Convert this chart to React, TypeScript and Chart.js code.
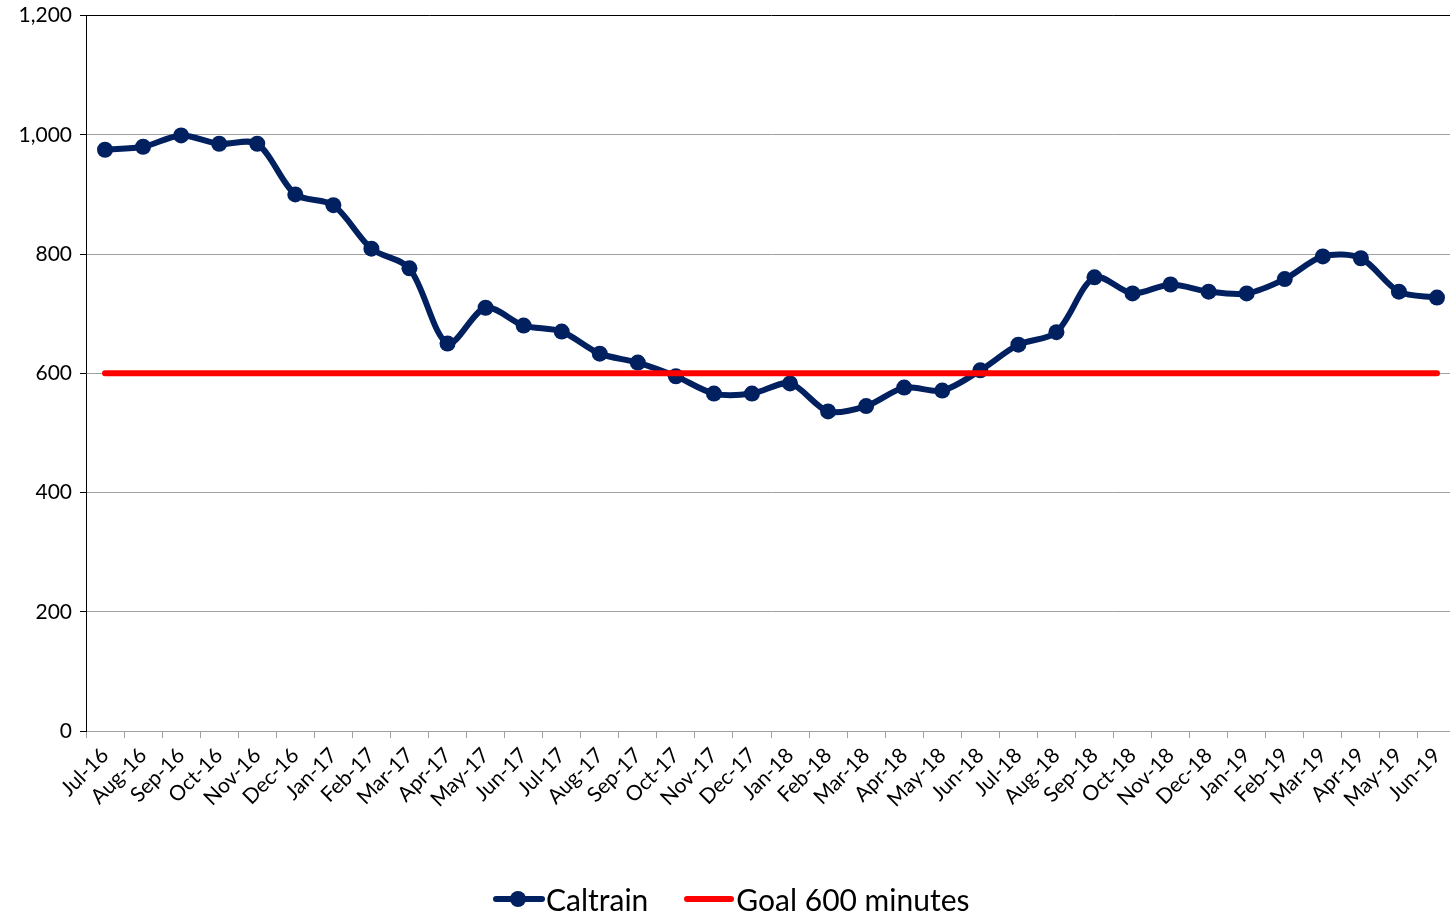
import React, { useEffect, useRef } from "react";
import { Chart, registerables } from "chart.js";

Chart.register(...registerables);

const months = [
  "Jul-16", "Aug-16", "Sep-16", "Oct-16", "Nov-16", "Dec-16",
  "Jan-17", "Feb-17", "Mar-17", "Apr-17", "May-17", "Jun-17",
  "Jul-17", "Aug-17", "Sep-17", "Oct-17", "Nov-17", "Dec-17",
  "Jan-18", "Feb-18", "Mar-18", "Apr-18", "May-18", "Jun-18",
  "Jul-18", "Aug-18", "Sep-18", "Oct-18", "Nov-18", "Dec-18",
  "Jan-19", "Feb-19", "Mar-19", "Apr-19", "May-19", "Jun-19",
];

const caltrain = [
  975, 980, 999, 985, 985, 900,
  882, 809, 776, 650, 710, 680,
  670, 633, 618, 595, 566, 566,
  583, 536, 545, 576, 571, 605,
  648, 669, 761, 734, 749, 737,
  734, 758, 796, 793, 737, 727,
];

const goal = months.map(() => 600);

const yTicks = [0, 200, 400, 600, 800, 1000, 1200];

const NAVY = "#002060";
const RED = "#FF0000";
const FONT = "Lato, 'Open Sans', sans-serif";

export default function App() {
  const ref = useRef<HTMLCanvasElement | null>(null);

  useEffect(() => {
    document.body.style.margin = "0";
    const canvas = ref.current;
    if (!canvas) return;
    const chart = new Chart(canvas, {
      type: "line",
      data: {
        labels: months,
        datasets: [
          {
            label: "Caltrain",
            data: caltrain,
            borderColor: NAVY,
            backgroundColor: NAVY,
            borderWidth: 6,
            pointRadius: 8,
            pointBackgroundColor: NAVY,
            pointBorderColor: NAVY,
            pointBorderWidth: 0,
            tension: 0.3,
            order: 2,
          },
          {
            label: "Goal 600 minutes",
            data: goal,
            borderColor: RED,
            backgroundColor: RED,
            borderWidth: 6,
            pointRadius: 0,
            borderCapStyle: "round",
            tension: 0,
            order: 1,
          },
        ],
      },
      options: {
        animation: false,
        responsive: false,
        maintainAspectRatio: false,
        layout: { padding: { left: 0, right: 4, top: 5, bottom: 0 } },
        plugins: {
          legend: { display: false },
          tooltip: { enabled: false },
        },
        scales: {
          x: {
            type: "category",
            offset: true,
            grid: {
              offset: true,
              drawOnChartArea: false,
              drawTicks: true,
              tickLength: 7,
              tickColor: "#a0a0a0",
              lineWidth: 1,
            },
            border: { color: "#a0a0a0", width: 1 },
            ticks: {
              minRotation: 45,
              maxRotation: 45,
              autoSkip: false,
              padding: 5,
              color: "#000",
              font: { family: FONT, size: 21 },
            },
            afterFit: (scale: any) => {
              scale.height = 182;
            },
          },
          y: {
            min: 0,
            max: 1200,
            afterBuildTicks: (scale: any) => {
              scale.ticks = yTicks.map((v) => ({ value: v }));
            },
            grid: {
              color: (ctx: any) => (ctx.tick && ctx.tick.value === 1200 ? "#000" : "#a0a0a0"),
              tickColor: "#000",
              tickLength: 6,
              lineWidth: 1,
            },
            border: { color: "#000", width: 1 },
            ticks: {
              color: "#000",
              padding: 8,
              font: { family: FONT, size: 21 },
              callback: (v: any) => Number(v).toLocaleString("en-US"),
            },
            afterFit: (scale: any) => {
              scale.width = 86;
            },
          },
        },
      },
    });
    return () => chart.destroy();
  }, []);

  const legendText: React.CSSProperties = {
    fontFamily: FONT,
    fontSize: 30,
    color: "#000",
    lineHeight: "34px",
    whiteSpace: "nowrap",
  };

  return (
    <div
      style={{
        position: "fixed",
        left: 0,
        top: 0,
        width: 1450,
        height: 913,
        overflow: "hidden",
        background: "#fff",
      }}
    >
      <canvas
        ref={ref}
        width={1464}
        height={918}
        style={{ display: "block", position: "absolute", left: 0, top: -5 }}
      />
      <div
        style={{
          position: "absolute",
          top: 882,
          left: 493,
          display: "flex",
          alignItems: "center",
          height: 34,
        }}
      >
        <div style={{ position: "relative", width: 52, height: 30 }}>
          <div
            style={{
              position: "absolute",
              left: 0,
              top: 12,
              width: 52,
              height: 6,
              background: NAVY,
              borderRadius: 3,
            }}
          />
          <div
            style={{
              position: "absolute",
              left: 17,
              top: 7,
              width: 16,
              height: 16,
              borderRadius: 8,
              background: NAVY,
            }}
          />
        </div>
        <span style={{ ...legendText, marginLeft: 1 }}>Caltrain</span>
        <div
          style={{
            width: 50,
            height: 6,
            background: RED,
            borderRadius: 3,
            marginLeft: 36,
          }}
        />
        <span style={{ ...legendText, marginLeft: 2 }}>Goal 600 minutes</span>
      </div>
    </div>
  );
}
